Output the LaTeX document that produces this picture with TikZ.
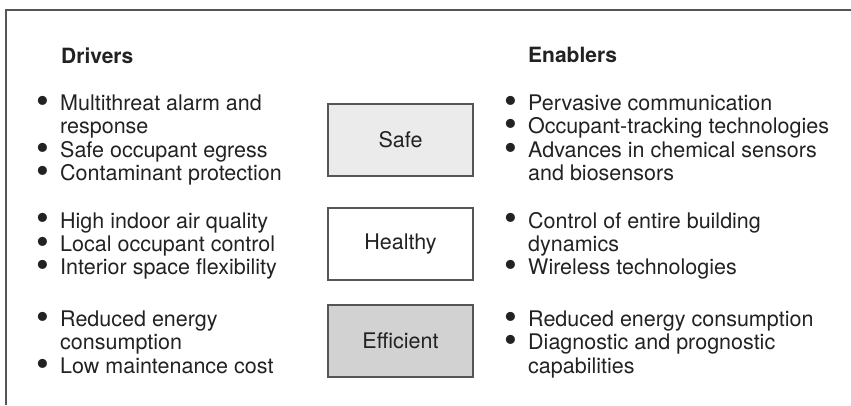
\documentclass[tikz,border=0pt]{standalone}
\usepackage{fontspec}
\setmainfont{TeX Gyre Heros}
\usetikzlibrary{positioning}
\definecolor{framegray}{HTML}{555555}
\definecolor{safefill}{HTML}{EBEBEB}
\definecolor{efffill}{HTML}{D2D2D2}
\definecolor{inkgray}{HTML}{222222}
\newcommand{\dotmark}{\smash{\raisebox{-2.9pt}{\scalebox{1.7}{\textbullet}}}}
\newcommand{\itm}{\par\hangindent=17pt\hangafter=1\noindent\makebox[17pt][l]{\makebox[0pt]{\dotmark}}}
\newcommand{\itemlist}[1]{\parbox[t]{330pt}{\raggedright\setlength{\parskip}{0pt}#1}}
\tikzset{
    goal/.style={draw=framegray, line width=1.5pt, minimum width=145pt, minimum height=72pt, inner sep=0pt, text=inkgray, font=\fontsize{21.5}{23.3}\selectfont},
    head/.style={anchor=base west, inner sep=0pt, text=inkgray, font=\fontsize{21}{24}\selectfont\bfseries},
    items/.style={anchor=base west, inner sep=0pt, text=inkgray, font=\fontsize{21.5}{23.3}\selectfont}
}

\begin{document}
\begin{tikzpicture}[x=1pt, y=-1pt]
    \useasboundingbox (0,0) rectangle (851,405);
    \draw [framegray, line width=1.5pt] (851,10) -- (6,10) -- (6,405);

    \node [head] (drivers) at (61,63) {Drivers};
    \node [head] (enablers) at (528,62) {Enablers};

    \node [goal, fill=safefill] (safe) at (400.5,140) {Safe};
    \node [goal, fill=white] (healthy) at (400.5,244) {Healthy};
    \node [goal, fill=efffill] (efficient) at (400.5,341) {Efficient};

    \node [items] (drvsafe) at (43,110.5) {\itemlist{\itm Multithreat alarm and\newline response \itm Safe occupant egress \itm Contaminant protection}};
    \node [items] (drvhealthy) at (43,228) {\itemlist{\itm High indoor air quality \itm Local occupant control \itm Interior space flexibility}};
    \node [items] (drvefficient) at (43,326.5) {\itemlist{\itm Reduced energy\newline consumption \itm Low maintenance cost}};

    \node [items] (enbsafe) at (511,110.5) {\itemlist{\itm Pervasive communication \itm Occupant-tracking technologies \itm Advances in chemical sensors\newline and biosensors}};
    \node [items] (enbhealthy) at (511,228) {\itemlist{\itm Control of entire building\newline dynamics \itm Wireless technologies}};
    \node [items] (enbefficient) at (511,326.5) {\itemlist{\itm Reduced energy consumption \itm Diagnostic and prognostic\newline capabilities}};
\end{tikzpicture}
\end{document}
